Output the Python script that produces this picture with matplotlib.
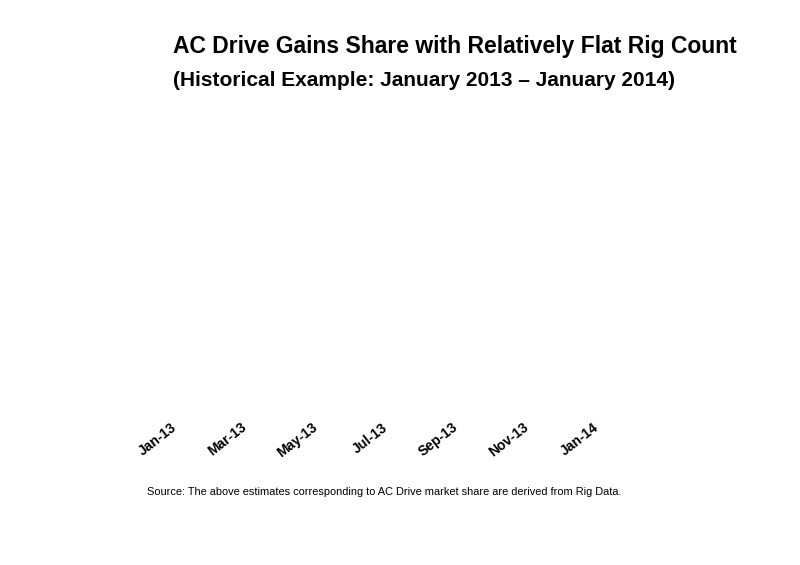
import matplotlib
matplotlib.use("Agg")
import matplotlib.pyplot as plt

# Data
months = ["Jan-13", "Feb-13", "Mar-13", "Apr-13", "May-13", "Jun-13", "Jul-13",
          "Aug-13", "Sep-13", "Oct-13", "Nov-13", "Dec-13", "Jan-14"]
tick_labels = ["Jan-13", "Mar-13", "May-13", "Jul-13", "Sep-13", "Nov-13", "Jan-14"]
title = "AC Drive Gains Share with Relatively Flat Rig Count"
subtitle = "(Historical Example: January 2013 \u2013 January 2014)"
source = "Source: The above estimates corresponding to AC Drive market share are derived from Rig Data."

plt.rcParams['font.family'] = ['Liberation Sans', 'DejaVu Sans']

W, H = 800, 565
fig = plt.figure(figsize=(W / 100, H / 100), dpi=100)

# axes: month index 0..12 mapped onto pixel positions
x0_px, x1_px = 157, 615
ax = fig.add_axes([x0_px / W, 1 - 423 / H, (x1_px - x0_px) / W, (423 - 110) / H])
ax.set_xlim(-0.5, len(months) - 0.5)
ax.set_ylim(0, 1)
tick_pos = [months.index(t) for t in tick_labels]
ax.set_xticks(tick_pos)
ax.set_xticklabels(tick_labels, rotation=38, ha='right', va='center',
                   rotation_mode='anchor', fontsize=10, fontweight='bold')
ax.tick_params(axis='x', length=0, pad=2)
ax.set_yticks([])
for s in ax.spines.values():
    s.set_visible(False)
ax.patch.set_visible(False)

fig.text(173 / W, 1 - 47 / H, title, ha='left', va='center', fontsize=16.5, fontweight='bold')
fig.text(173 / W, 1 - 80 / H, subtitle, ha='left', va='center', fontsize=15, fontweight='bold')
fig.text(147 / W, 1 - 492 / H, source, ha='left', va='center', fontsize=7.9)

fig.savefig("out.png", dpi=100)
